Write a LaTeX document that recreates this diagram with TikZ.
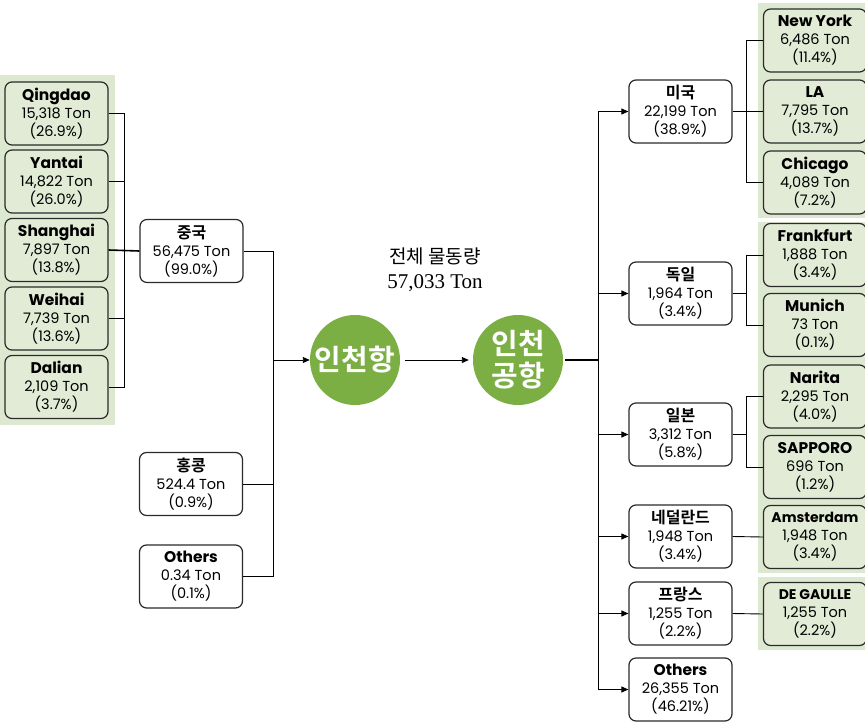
\documentclass[tikz,border=0pt]{standalone}
\usepackage{fontspec}
\setmainfont{Poppins}
\newfontfamily\kr{Noto Sans CJK KR}[BoldFont={Noto Sans CJK KR Bold}]
\newfontfamily\serifnum{Liberation Serif}
\usetikzlibrary{arrows.meta}
\definecolor{bggreen}{HTML}{DDE8D0}
\definecolor{boxgreen}{HTML}{E2EBD6}
\definecolor{circgreen}{HTML}{7BAF44}
\definecolor{bordergray}{HTML}{2A2A2A}
\newcommand\nm[1]{{\fontsize{15.5}{18}\selectfont\bfseries #1}}
\newcommand\knm[1]{{\kr\bfseries\fontsize{16}{18}\selectfont #1}}
\begin{document}
\begin{tikzpicture}[x=1pt,y=-1pt,
  box/.style={draw=bordergray,line width=1.2pt,rounded corners=7pt,fill=white,
    minimum width=103pt,minimum height=63pt,inner sep=0pt,align=center,
    font=\fontsize{14.5}{18}\selectfont},
  gbox/.style={box,fill=boxgreen},
  circ/.style={circle,fill=circgreen,minimum size=90pt,inner sep=0pt,align=center,
    text=white,font=\kr\bfseries\fontsize{29}{32}\selectfont},
  conn/.style={line width=0.9pt,draw=black},
  arr/.style={conn,-{Triangle[length=7pt,width=6pt]}}]
\useasboundingbox (0,0) rectangle (865,723);
\fill[white] (0,0) rectangle (865,723);
% backgrounds
\fill[bggreen] (0,75) rectangle (115,425);
\fill[bggreen] (758,3) rectangle (865,218);
\fill[bggreen] (758,222) rectangle (865,573);
\fill[bggreen] (758,577) rectangle (865,650);
% left city boxes
\node[gbox] (qd) at (56.5,113.5) {\nm{Qingdao}\\15,318 Ton\\(26.9\%)};
\node[gbox] (yt) at (56.5,181.5) {\nm{Yantai}\\14,822 Ton\\(26.0\%)};
\node[gbox] (sh) at (56.5,250) {\nm{Shanghai}\\7,897 Ton\\(13.8\%)};
\node[gbox] (wh) at (56.5,318.5) {\nm{Weihai}\\7,739 Ton\\(13.6\%)};
\node[gbox] (dl) at (56.5,387) {\nm{Dalian}\\2,109 Ton\\(3.7\%)};
% left country boxes
\node[box] (cn) at (191.5,251) {\knm{중국}\\56,475 Ton\\(99.0\%)};
\node[box] (hk) at (191,484) {\knm{홍콩}\\524.4 Ton\\(0.9\%)};
\node[box] (lo) at (191,576.5) {\nm{Others}\\0.34 Ton\\(0.1\%)};
% circles
\node[circ] (port) at (355,360) {인천항};
\node[circ] (air) at (518,360) {인천\\공항};
% title
\node[font=\kr\fontsize{19}{22}\selectfont] (t1) at (435,256) {전체 물동량};
\node[font=\serifnum\fontsize{21}{22}\selectfont] (t2) at (435,283) {57,033 Ton};
% right country boxes
\node[box] (us) at (680.5,111.5) {\knm{미국}\\22,199 Ton\\(38.9\%)};
\node[box] (de) at (680.5,293.5) {\knm{독일}\\1,964 Ton\\(3.4\%)};
\node[box] (jp) at (680.5,434.5) {\knm{일본}\\3,312 Ton\\(5.8\%)};
\node[box] (nl) at (680.5,536.5) {\knm{네덜란드}\\1,948 Ton\\(3.4\%)};
\node[box] (fr) at (680.5,613.5) {\knm{프랑스}\\1,255 Ton\\(2.2\%)};
\node[box] (ro) at (680.5,689.5) {\nm{Others}\\26,355 Ton\\(46.21\%)};
% right city boxes
\node[gbox] (ny) at (815,40.5) {\nm{New York}\\6,486 Ton\\(11.4\%)};
\node[gbox] (la) at (815,111.5) {\nm{LA}\\7,795 Ton\\(13.7\%)};
\node[gbox] (ch) at (815,182.5) {\nm{Chicago}\\4,089 Ton\\(7.2\%)};
\node[gbox] (ff) at (815,255) {\nm{Frankfurt}\\1,888 Ton\\(3.4\%)};
\node[gbox] (mu) at (815,325) {\nm{Munich}\\73 Ton\\(0.1\%)};
\node[gbox] (na) at (815,396.5) {\nm{Narita}\\2,295 Ton\\(4.0\%)};
\node[gbox] (sp) at (815,467) {\nm{SAPPORO}\\696 Ton\\(1.2\%)};
\node[gbox] (am) at (815,537) {{\fontsize{14}{18}\selectfont\bfseries Amsterdam}\\1,948 Ton\\(3.4\%)};
\node[gbox] (dg) at (815,614) {{\fontsize{14}{18}\selectfont\bfseries DE GAULLE}\\1,255 Ton\\(2.2\%)};
% bus coordinates
\coordinate (lb1) at (124,113.5);
\coordinate (lb2) at (124,387);
\coordinate (lv1) at (273,251);
\coordinate (lv2) at (273,576.5);
\coordinate (lvm) at (273,360);
\coordinate (rv) at (598,360);
\coordinate (rv1) at (598,111.5);
\coordinate (rv2) at (598,689.5);
% left connectors
\draw[conn] (qd.east) -- (lb1) -- (lb2) -- (dl.east);
\draw[conn] (yt.east) -- (yt.east -| lb1);
\draw[conn] (wh.east) -- (wh.east -| lb1);
\draw[conn,line width=1.6pt] (sh.east) -- (cn.west);
\draw[conn] (cn.east) -- (lv1) -- (lv2);
\draw[conn] (hk.east) -- (hk.east -| lv1);
\draw[conn,line width=1.6pt] (lo.east) -- (lv2);
\draw[arr] (lvm) -- (port.west);
\draw[arr] (port.east) ++(5,0) coordinate (pe) (pe) -- ([xshift=-4pt]air.west);
% right connectors
\draw[conn,line width=1.6pt] ([xshift=2pt]air.east) -- (rv);
\draw[conn] (rv1) -- (rv2);
\foreach \n in {us,de,jp,nl,fr,ro} \draw[arr] (\n.west -| rv) -- (\n.west);
% sub buses
\draw[conn] (ny.west) -- ++(-16,0) coordinate (a1) -- (a1 |- ch.west) -- (ch.west);
\draw[conn,line width=1.6pt] (us.east) -- (la.west);
\draw[conn] (ff.west) -- ++(-16,0) coordinate (a2) -- (a2 |- mu.west) -- (mu.west);
\draw[conn,line width=1.4pt] (de.east) -- (de.east -| a2);
\draw[conn] (na.west) -- ++(-16,0) coordinate (a3) -- (a3 |- sp.west) -- (sp.west);
\draw[conn,line width=1.4pt] (jp.east) -- (jp.east -| a3);
\draw[conn] (nl.east) -- (am.west);
\draw[conn] (fr.east) -- (dg.west);
\end{tikzpicture}
\end{document}
